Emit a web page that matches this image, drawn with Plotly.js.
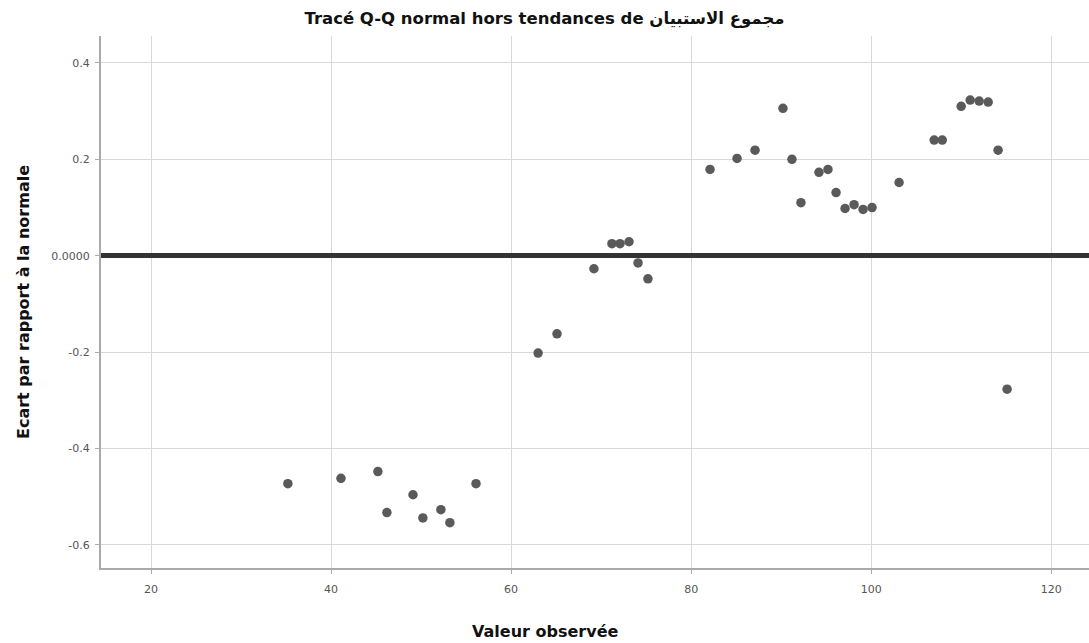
<!DOCTYPE html>
<html>
<head>
<meta charset="utf-8">
<script src="https://cdn.plot.ly/plotly-3.0.1.min.js"></script>
<style>
  html, body { margin: 0; padding: 0; background: #fff; }
  #chart { width: 1089px; height: 643px; }
</style>
</head>
<body>
<div id="chart"></div>
<script>
// Observed values of the questionnaire total and their deviation from normal
const observed = [35.2, 41.1, 45.2, 46.2, 49.1, 50.2, 52.2, 53.2, 56.1,
  63.0, 65.1, 69.2, 71.2, 72.1, 73.1, 74.1, 75.2,
  82.1, 85.1, 87.1, 90.2, 91.2, 92.2, 94.2, 95.2, 96.1, 97.1, 98.1, 99.1, 100.1,
  103.1, 107.0, 107.9, 110.0, 111.0, 112.0, 113.0, 114.1, 115.1];
const deviation = [-0.473, -0.462, -0.448, -0.533, -0.496, -0.544, -0.527, -0.554, -0.473,
  -0.202, -0.162, -0.027, 0.025, 0.025, 0.029, -0.015, -0.048,
  0.179, 0.202, 0.219, 0.306, 0.200, 0.110, 0.173, 0.179, 0.131, 0.098, 0.106, 0.096, 0.100,
  0.152, 0.240, 0.240, 0.310, 0.323, 0.321, 0.319, 0.219, -0.277];

const xTicks = [20, 40, 60, 80, 100, 120];
const yTicks = [0.4, 0.2, 0, -0.2, -0.4, -0.6];
const yTickLabels = ['0.4', '0.2', '0.0000', '-0.2', '-0.4', '-0.6'];

const trace = {
  x: observed,
  y: deviation,
  type: 'scatter',
  mode: 'markers',
  marker: { color: '#5a5a5a', size: 9.5, line: { width: 0 } },
  hoverinfo: 'x+y',
  showlegend: false
};

const titleFont = 'DejaVu Sans, Liberation Sans, Arial, sans-serif';

const layout = {
  width: 1089,
  height: 643,
  margin: { l: 101, r: 0, t: 36, b: 75 },
  paper_bgcolor: '#ffffff',
  plot_bgcolor: '#ffffff',
  font: { family: titleFont, color: '#222' },
  title: {
    text: 'Tracé Q-Q normal hors tendances de مجموع الاستبيان',
    font: { family: titleFont, size: 16.5, color: '#111', weight: 'bold' },
    x: 0.5, xanchor: 'center', y: 0.972, yanchor: 'middle'
  },
  xaxis: {
    range: [14.44, 124.2],
    tickvals: xTicks,
    ticktext: xTicks.map(String),
    tickfont: { size: 11, color: '#555' },
    ticks: 'outside', ticklen: 4, tickcolor: '#aaa',
    ticklabelstandoff: 6,
    showgrid: true, gridcolor: '#d9d9d9', gridwidth: 1,
    showline: true, linecolor: '#aaa', linewidth: 2,
    zeroline: false
  },
  yaxis: {
    range: [-0.648, 0.456],
    tickvals: yTicks,
    ticktext: yTickLabels,
    tickfont: { size: 11, color: '#555' },
    ticks: 'outside', ticklen: 4, tickcolor: '#aaa',
    ticklabelstandoff: 3,
    showgrid: true, gridcolor: '#d9d9d9', gridwidth: 1,
    showline: true, linecolor: '#aaa', linewidth: 2,
    zeroline: true, zerolinecolor: '#333', zerolinewidth: 5,
    title: { text: 'Ecart par rapport à la normale', font: { family: titleFont, size: 16, color: '#111', weight: 'bold' }, standoff: 18 }
  },
  // x-axis title, centred on the whole figure
  annotations: [{
    text: 'Valeur observée',
    xref: 'paper', yref: 'paper',
    x: 0.449, y: -0.12, xanchor: 'center', yanchor: 'middle',
    showarrow: false,
    font: { family: titleFont, size: 16, color: '#111', weight: 'bold' }
  }]
};

Plotly.newPlot('chart', [trace], layout, { displayModeBar: false, staticPlot: true });
</script>
</body>
</html>
